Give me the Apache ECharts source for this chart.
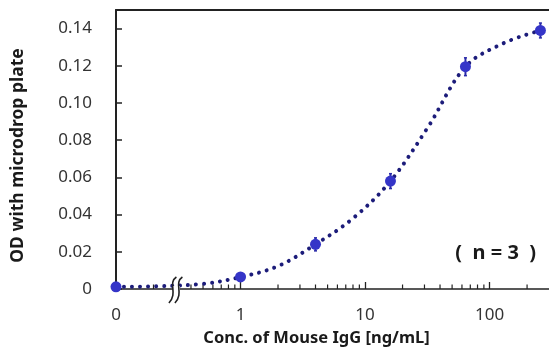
<!DOCTYPE html>
<html>
<head>
<meta charset="utf-8">
<script src="https://cdn.jsdelivr.net/npm/echarts@6/dist/echarts.min.js"></script>
<style>html,body{margin:0;padding:0;background:#fff}#c{width:549px;height:356px}</style>
</head>
<body>
<div id="c"></div>
<script>
// ---- data ----
var concLabels = [0, 1, 4, 16, 64, 256];          // ng/mL (0 drawn at axis start)
var odMean     = [0.0012, 0.0065, 0.024, 0.058, 0.1195, 0.139];
var odErr      = [0.0006, 0.0012, 0.0035, 0.004, 0.0048, 0.0040];
// fitted curve
var curveConc  = [0.1, 0.2, 0.5, 1, 2, 4, 8, 16, 32, 64, 128, 256];
var curveOD    = [0.0012, 0.0014, 0.0028, 0.0064, 0.0123, 0.024, 0.038, 0.058, 0.087, 0.1195, 0.132, 0.139];
var minorTickVals = [0.2, 0.4, 0.5, 0.6, 0.7, 0.8, 0.9, 2, 3, 4, 5, 6, 7, 8, 9, 20, 30, 40, 50, 60, 70, 80, 90, 200];
var yTicks = [0, 0.02, 0.04, 0.06, 0.08, 0.10, 0.12, 0.14];
var ZERO_POS = 0.1;   // where concentration 0 is drawn
var BREAK_POS = 0.3;  // axis break position

var chart = echarts.init(document.getElementById('c'));
var FONT = '"Noto Sans", "DejaVu Sans", sans-serif';
var points = concLabels.map(function (c, i) { return [c === 0 ? ZERO_POS : c, odMean[i]]; });
var errData = concLabels.map(function (c, i) { return [c === 0 ? ZERO_POS : c, odMean[i] - odErr[i], odMean[i] + odErr[i]]; });
var curve = curveConc.map(function (c, i) { return [c, curveOD[i]]; });

chart.setOption({
  animation: false,
  backgroundColor: '#fff',
  grid: { left: 116, right: 0, top: 10, bottom: 67 },
  xAxis: [{
    type: 'log', logBase: 10, min: 0.1, max: 300,
    axisLine: { lineStyle: { color: '#222', width: 1.6 } },
    axisTick: { inside: true, length: 7, lineStyle: { color: '#222', width: 1.3 } },
    axisLabel: {
      margin: 18, color: '#333', fontSize: 17, fontFamily: FONT, showMaxLabel: false,
      formatter: function (v) {
        if (Math.abs(v - 0.1) < 1e-6) return '0';
        return String(Math.round(v));
      }
    },
    splitLine: { show: false },
    name: 'Conc. of Mouse IgG [ng/mL]', nameLocation: 'middle', nameGap: 41,
    nameTextStyle: { fontSize: 16.5, fontWeight: 'bold', color: '#1a1a1a', fontFamily: FONT, padding: [0, 32, 0, 0] }
  }, {
    type: 'value', position: 'top', min: 0, max: 1,
    axisLine: { show: true, lineStyle: { color: '#222', width: 2 } },
    axisTick: { show: false }, axisLabel: { show: false }, splitLine: { show: false }
  }],
  yAxis: {
    type: 'value', min: 0, max: 0.15, interval: 0.02,
    axisLine: { show: true, lineStyle: { color: '#222', width: 2 } },
    axisTick: { show: true, inside: true, length: 6, lineStyle: { color: '#222', width: 1.5 } },
    axisLabel: {
      margin: 24, color: '#333', fontSize: 17, fontFamily: FONT, showMaxLabel: false,
      formatter: function (v) {
        for (var i = 0; i < yTicks.length; i++) {
          if (Math.abs(v - yTicks[i]) < 1e-9) return yTicks[i] === 0 ? '0' : yTicks[i].toFixed(2);
        }
        return '';
      }
    },
    splitLine: { show: false },
    name: 'OD with microdrop plate', nameLocation: 'middle', nameGap: 89,
    nameTextStyle: { fontSize: 17.5, fontWeight: 'bold', color: '#1a1a1a', fontFamily: FONT, padding: [0, 12, 0, 0] }
  },
  graphic: [{
    type: 'text', right: 13, top: 243,
    style: { text: '(  n = 3  )', font: 'bold 20px ' + FONT, fill: '#1a1a1a' }
  }],
  series: [
    {
      type: 'custom', name: 'minorTicks', z: 3, silent: true,
      data: minorTickVals.map(function (v) { return [v, 0]; }),
      renderItem: function (params, api) {
        var p = api.coord([api.value(0), 0]);
        return { type: 'line', shape: { x1: p[0], y1: p[1], x2: p[0], y2: p[1] - 4.5 },
                 style: { stroke: '#222', lineWidth: 1.2 } };
      }
    },
    {
      type: 'line', name: 'fit', data: curve, smooth: 0.35, showSymbol: false, symbol: 'none', z: 4,
      lineStyle: { color: '#1c1c7a', width: 4, type: [0.01, 8], cap: 'round' }
    },
    {
      type: 'custom', name: 'err', z: 5, silent: true, data: errData,
      renderItem: function (params, api) {
        var lo = api.coord([api.value(0), api.value(1)]);
        var hi = api.coord([api.value(0), api.value(2)]);
        return { type: 'group', children: [
          { type: 'line', shape: { x1: lo[0], y1: lo[1], x2: hi[0], y2: hi[1] }, style: { stroke: '#2a2aa8', lineWidth: 2 } },
          { type: 'line', shape: { x1: lo[0] - 1.5, y1: lo[1], x2: lo[0] + 1.5, y2: lo[1] }, style: { stroke: '#2a2aa8', lineWidth: 1.5 } },
          { type: 'line', shape: { x1: hi[0] - 1.5, y1: hi[1], x2: hi[0] + 1.5, y2: hi[1] }, style: { stroke: '#2a2aa8', lineWidth: 1.5 } }
        ]};
      }
    },
    {
      type: 'scatter', name: 'mean', data: points, symbol: 'circle', symbolSize: 11, z: 6,
      itemStyle: { color: '#3535c8', opacity: 1 }
    },
    {
      type: 'custom', name: 'break', z: 7, silent: true, data: [[BREAK_POS, 0]],
      renderItem: function (params, api) {
        var p = api.coord([api.value(0), 0]);
        var x = p[0], y = p[1];
        function s(dx) {
          var a = x + dx;
          return 'M' + (a + 4) + ' ' + (y - 12) +
                 ' C' + (a - 5) + ' ' + (y - 6) + ' ' + (a + 6) + ' ' + (y + 4) + ' ' + (a - 3.5) + ' ' + (y + 14);
        }
        return { type: 'group', children: [
          { type: 'rect', shape: { x: x - 2.5, y: y - 3, width: 7, height: 6 }, style: { fill: '#fff' } },
          { type: 'path', shape: { pathData: s(-3) }, style: { stroke: '#222', lineWidth: 1.6, fill: 'none' } },
          { type: 'path', shape: { pathData: s(3) }, style: { stroke: '#222', lineWidth: 1.6, fill: 'none' } }
        ]};
      }
    }
  ]
});
</script>
</body>
</html>
